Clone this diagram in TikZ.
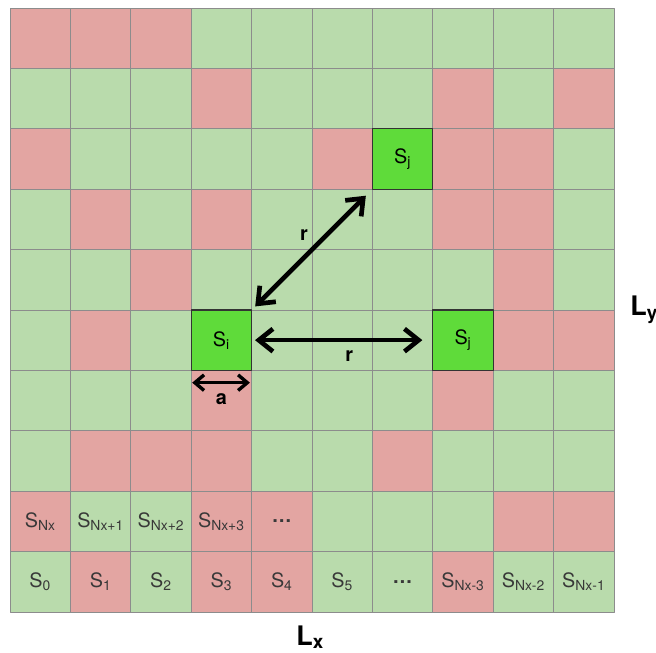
\documentclass[tikz,border=0pt]{standalone}
\usepackage{fontspec}
\setmainfont{TeX Gyre Heros}
\usetikzlibrary{arrows.meta}
\definecolor{cellg}{HTML}{B9DBAC}
\definecolor{cellr}{HTML}{E3A5A2}
\definecolor{cellb}{HTML}{5FDB3A}
\definecolor{labtext}{HTML}{383838}

\begin{document}
\begin{tikzpicture}[x=1.5cm, y=1.5cm, line cap=round, line join=round,
	cell/.style={draw=black!45, line width=0.6pt, minimum size=1.5cm, inner sep=0pt},
	hot/.style={draw=black!80, line width=0.8pt, fill=cellb, minimum size=1.5cm, inner sep=0pt, font=\fontsize{14}{16}\selectfont},
	lab/.style={text=labtext, font=\fontsize{14}{16}\selectfont},
	arr/.style={{Straight Barb[length=10pt,width=16pt]}-{Straight Barb[length=10pt,width=16pt]}, line width=3.3pt},
	arrsmall/.style={{Straight Barb[length=6.5pt,width=11pt]}-{Straight Barb[length=6.5pt,width=11pt]}, line width=2.4pt},
	dist/.style={font=\fontsize{14}{16}\bfseries\selectfont},
	side/.style={font=\fontsize{19}{21}\selectfont\bfseries}]
	
	\useasboundingbox (-0.166,-0.679) rectangle (10.695,10.132);
	
	% Lưới ô (hàng trên cùng trước)
	\foreach \row [count=\j from 0] in {
		{r,r,r,g,g,g,g,g,g,g},
		{g,g,g,r,g,g,g,r,g,r},
		{r,g,g,g,g,r,b,r,r,g},
		{g,r,g,r,g,g,g,r,r,g},
		{g,g,r,g,g,g,g,g,r,g},
		{g,r,g,b,g,g,g,b,r,r},
		{g,g,g,r,g,g,g,r,g,g},
		{g,r,r,r,g,g,r,g,g,g},
		{r,g,g,r,r,g,g,g,r,r},
		{g,r,g,r,r,g,g,r,g,g}}{
		\foreach \c [count=\i from 0] in \row
		\node[cell, fill=cell\c] (c\i-\j) at (\i+0.5,9.5-\j) {};
	}
	
	% Nhãn các ô ở hai hàng dưới
	\foreach \i/\j/\t in {0/9/0, 1/9/1, 2/9/2, 3/9/3, 4/9/4, 5/9/5,
		7/9/{Nx-3}, 8/9/{Nx-2}, 9/9/{Nx-1},
		0/8/Nx, 1/8/{Nx+1}, 2/8/{Nx+2}, 3/8/{Nx+3}}
	\node[lab] (s\i-\j) at (c\i-\j) {S\textsubscript{\t}};
	\node[lab] (d6-9) at (c6-9) {\textbf{\dots}};
	\node[lab] (d4-8) at (c4-8) {\textbf{\dots}};
	
	% Các ô S_i, S_j
	\node[hot] (si) at (c3-5) {S\textsubscript{i}};
	\node[hot] (sja) at (c6-2) {S\textsubscript{j}};
	\node[hot] (sjb) at (c7-5) {S\textsubscript{j}};
	
	% Mũi tên khoảng cách r
	\draw[arr, shorten <=3pt, shorten >=6pt] (si.north east) -- (sja.south west)
	node[dist, midway, xshift=-5.6pt, yshift=10.6pt] (r1) {r};
	\draw[arr, shorten <=2pt, shorten >=7pt] (si.east) -- (sjb.west)
	node[dist, midway, xshift=5pt, yshift=-11pt] (r2) {r};
	
	% Cạnh ô a
	\draw[arrsmall, shorten <=1pt, shorten >=1.5pt] ([yshift=-9pt]c3-6.north west) -- ([yshift=-9pt]c3-6.north east)
	node[dist, midway, below=3pt] (a) {a};
	
	% Kích thước L_x, L_y
	\node[side] (lx) at (4.97,-0.42) {L\textsubscript{x}};
	\node[side] (ly) at (10.5,5.0) {L\textsubscript{y}};
	
\end{tikzpicture}
\end{document}
